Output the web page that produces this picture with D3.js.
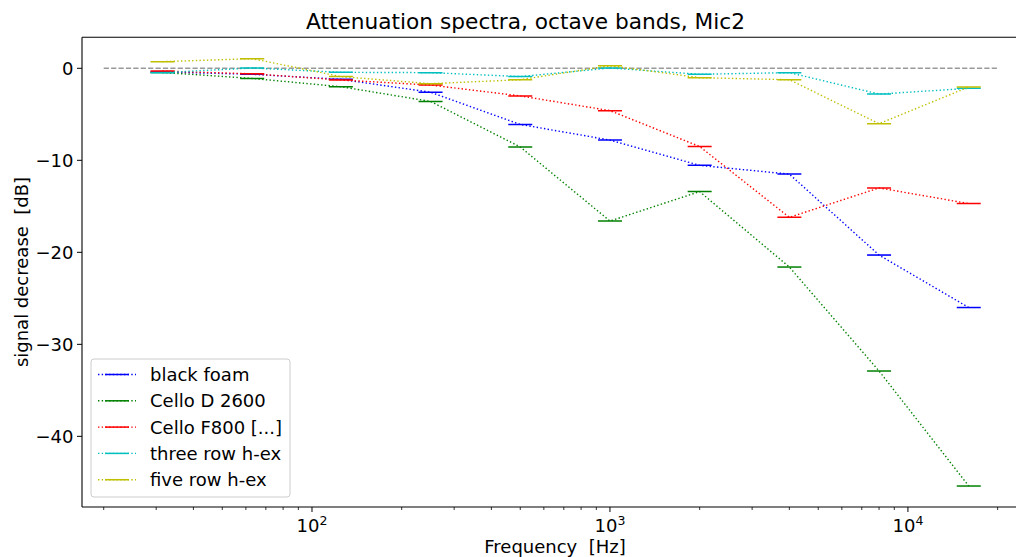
<!DOCTYPE html>
<html>
<head>
<meta charset="utf-8">
<script src="https://cdn.jsdelivr.net/npm/d3@7"></script>
<style>
  html, body { margin: 0; padding: 0; background: #fff; }
  svg { display: block; font-family: "DejaVu Sans", sans-serif; }
  text { white-space: pre; }
</style>
</head>
<body>
<svg id="chart" width="1016" height="557"></svg>
<script>
// Octave band centre frequencies (Hz)
const bands = [31.5, 63, 125, 250, 500, 1000, 2000, 4000, 8000, 16000];

// Attenuation per band (dB) for each absorber
const blackFoam = [-0.4, -0.65, -1.2, -2.6, -6.1, -7.8, -10.55, -11.5, -20.3, -26.0];
const celloD2600 = [-0.45, -1.1, -2.0, -3.6, -8.55, -16.6, -13.4, -21.6, -32.9, -45.4];
const celloF800 = [-0.3, -0.6, -1.27, -1.82, -3.0, -4.6, -8.5, -16.2, -13.0, -14.7];
const threeRowHex = [-0.47, 0.03, -0.44, -0.47, -0.9, 0.03, -0.65, -0.47, -2.8, -2.18];
const fiveRowHex = [0.72, 1.05, -0.9, -1.67, -1.24, 0.28, -1.02, -1.24, -6.02, -2.03];

const seriesNames = ["black foam", "Cello D 2600", "Cello F800 [...]", "three row h-ex", "five row h-ex"];
const seriesColors = ["#0000ff", "#008000", "#ff0000", "#00bfbf", "#bfbf00"];
const seriesValues = [blackFoam, celloD2600, celloF800, threeRowHex, fiveRowHex];

const yTicks = [0, -10, -20, -30, -40];
const xMajorTicks = [100, 1000, 10000];
const refLine = [20, 20000];

const svg = d3.select("#chart");
const W = 1016, H = 557;
const plot = { left: 82, right: 1028, top: 37.3, bottom: 507 };
const FS = 18;

const x = d3.scaleLog().domain([16.91, 25290]).range([plot.left, plot.right]);
const y = d3.scaleLinear().domain([-47.68, 3.37]).range([plot.bottom, plot.top]);

const fmt = v => (v < 0 ? "\u2212" + Math.abs(v) : String(v));

// Clip data to the axes area
svg.append("defs").append("clipPath").attr("id", "plotclip")
  .append("rect").attr("x", plot.left).attr("y", plot.top)
  .attr("width", plot.right - plot.left).attr("height", plot.bottom - plot.top);

const gPlot = svg.append("g").attr("clip-path", "url(#plotclip)");

// Zero reference line
gPlot.append("line")
  .attr("x1", x(refLine[0])).attr("x2", x(refLine[1]))
  .attr("y1", y(0)).attr("y2", y(0))
  .attr("stroke", "#999").attr("stroke-width", 1.4)
  .attr("stroke-dasharray", "5.2,2.2");

const line = d3.line().x(d => x(d[0])).y(d => y(d[1]));

seriesValues.forEach((vals, i) => {
  const pts = bands.map((f, j) => [f, vals[j]]);
  const g = gPlot.append("g");
  g.append("path").datum(pts)
    .attr("d", line).attr("fill", "none")
    .attr("stroke", seriesColors[i]).attr("stroke-width", 1.4)
    .attr("stroke-dasharray", "1.4,2.3");
  g.selectAll("line.mk").data(pts).enter().append("line")
    .attr("x1", d => x(d[0]) - 12).attr("x2", d => x(d[0]) + 12)
    .attr("y1", d => y(d[1])).attr("y2", d => y(d[1]))
    .attr("stroke", seriesColors[i]).attr("stroke-width", 1.5);
});

// Axes spines
const spine = svg.append("g").attr("stroke", "#000").attr("stroke-width", 1.1).attr("fill", "none");
spine.append("line").attr("x1", plot.left).attr("x2", plot.left).attr("y1", plot.top).attr("y2", plot.bottom);
spine.append("line").attr("x1", plot.left).attr("x2", plot.right).attr("y1", plot.bottom).attr("y2", plot.bottom);
spine.append("line").attr("x1", plot.left).attr("x2", plot.right).attr("y1", plot.top).attr("y2", plot.top);

// Y axis
const yAxis = svg.append("g");
yTicks.forEach(t => {
  yAxis.append("line").attr("x1", plot.left - 5).attr("x2", plot.left)
    .attr("y1", y(t)).attr("y2", y(t)).attr("stroke", "#000").attr("stroke-width", 1);
  yAxis.append("text").attr("x", plot.left - 8.5).attr("y", y(t))
    .attr("text-anchor", "end").attr("dominant-baseline", "central")
    .attr("font-size", FS).attr("fill", "#000").text(fmt(t));
});

// X axis: log ticks (major + minor)
const xAxis = svg.append("g");
const allTicks = x.ticks();
allTicks.forEach(t => {
  const isMajor = xMajorTicks.includes(t);
  if (x(t) < plot.left || x(t) > W) return;
  xAxis.append("line").attr("x1", x(t)).attr("x2", x(t))
    .attr("y1", plot.bottom).attr("y2", plot.bottom + (isMajor ? 5 : 3))
    .attr("stroke", "#000").attr("stroke-width", isMajor ? 1 : 0.8);
});
xMajorTicks.forEach(t => {
  const txt = xAxis.append("text").attr("x", x(t)).attr("y", 532)
    .attr("text-anchor", "middle").attr("font-size", FS).attr("fill", "#000");
  txt.append("tspan").text("10");
  txt.append("tspan").attr("font-size", 12.5).attr("dy", -7.5).text(String(Math.round(Math.log10(t))));
});

// Axis labels and title
svg.append("text").attr("x", 555).attr("y", 553).attr("text-anchor", "middle")
  .attr("font-size", FS).attr("fill", "#000").text("Frequency  [Hz]");
svg.append("text").attr("transform", "translate(28,272) rotate(-90)")
  .attr("text-anchor", "middle").attr("font-size", FS).attr("fill", "#000")
  .text("signal decrease  [dB]");
svg.append("text").attr("x", 525.5).attr("y", 29).attr("text-anchor", "middle")
  .attr("font-size", 21.7).attr("fill", "#000").text("Attenuation spectra, octave bands, Mic2");

// Legend
const lg = svg.append("g");
lg.append("rect").attr("x", 91).attr("y", 359).attr("width", 199).attr("height", 138)
  .attr("rx", 3).attr("fill", "#fff").attr("fill-opacity", 0.8)
  .attr("stroke", "#ccc").attr("stroke-width", 1);
seriesNames.forEach((name, i) => {
  const cy = 374.5 + i * 26.3;
  lg.append("line").attr("x1", 98).attr("x2", 136).attr("y1", cy).attr("y2", cy)
    .attr("stroke", seriesColors[i]).attr("stroke-width", 1.4).attr("stroke-dasharray", "1.4,2.3");
  lg.append("line").attr("x1", 105).attr("x2", 129).attr("y1", cy).attr("y2", cy)
    .attr("stroke", seriesColors[i]).attr("stroke-width", 1.5);
  lg.append("text").attr("x", 150).attr("y", cy).attr("dominant-baseline", "central")
    .attr("font-size", FS).attr("fill", "#000").text(name);
});
</script>
</body>
</html>
